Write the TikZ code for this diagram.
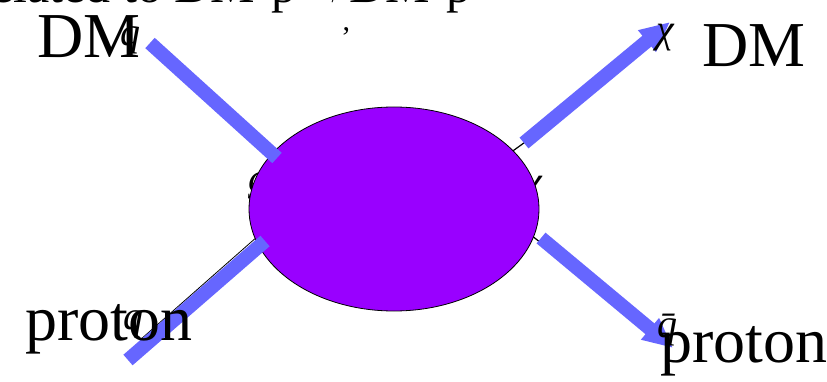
\documentclass[tikz,border=0pt]{standalone}
\usepackage{fontspec}
\setmainfont{Liberation Serif}
\usetikzlibrary{arrows.meta,shapes.geometric}
\definecolor{beam}{HTML}{6666FF}
\definecolor{blobfill}{HTML}{9900FF}
\begin{document}
\begin{tikzpicture}[x=1pt,y=-1pt,
  beamline/.style={draw=beam,line width=14pt},
  headed/.style={-{Triangle[width=26pt,length=30pt]}},
  big/.style={font=\fontsize{64}{70}\selectfont, inner sep=0pt, anchor=base west},
  small/.style={font=\fontsize{40}{44}\selectfont\itshape, inner sep=0pt},
  titletext/.style={font=\fontsize{50}{54}\selectfont, inner sep=0pt},
  fermion/.style={draw=black,line width=1.2pt}]
\useasboundingbox (0,0) rectangle (827,382);
\clip (0,0) rectangle (827,382);
% clipped title
\node[titletext, anchor=base east] (title1) at (297,3) {related to DM-p};
\node[titletext, anchor=base] (titlearrow) at (327,3) {$\rightarrow$};
\node[titletext, anchor=base east] (title2) at (472,3) {DM-p};
% fragments of labels behind the blob
\node[small] (g) at (258,186) {g};
\node[small] (chiR) at (533,190) {χ};
\node[font=\fontsize{30}{32}\selectfont, inner sep=0pt] (tick) at (346,38) {'};
% underlying fermion lines
\coordinate (f1) at (510,153); \coordinate (f2) at (528,140);
\coordinate (f3) at (531,235); \coordinate (f4) at (546,247);
\coordinate (f5) at (140,340); \coordinate (f6) at (258,236);
\draw[fermion] (f1) -- (f2);
\draw[fermion] (f3) -- (f4);
\draw[fermion,line width=0.8pt] (f5) -- (f6);
% the blob
\node[ellipse, draw=black, fill=blobfill, minimum width=290pt, minimum height=204pt, inner sep=0pt, line width=0.8pt] (blob) at (394,209) {};
% blue momentum arrows
\coordinate (a1) at (150,43);  \coordinate (a2) at (277,158);
\coordinate (b1) at (128,360); \coordinate (b2) at (265,241);
\coordinate (c1) at (524,143); \coordinate (c2) at (670,22);
\coordinate (d1) at (541,238); \coordinate (d2) at (673,348);
\draw[beamline] (a1) -- (a2);
\draw[beamline] (b1) -- (b2);
\draw[beamline,headed] (c1) -- (c2);
\draw[beamline,headed] (d1) -- (d2);
% small labels
\node[small] (qa) at (130,40) {q};
\node[small] (qb) at (133,324) {q};
\node[small] (chiT) at (665,38) {χ};
\node[small] (qbar) at (667,330) {\=q};
% big labels
\node[big] (dmL) at (37,58) {DM};
\node[big] (dmR) at (702,67) {DM};
\node[big] (pL) at (25,340) {proton};
\node[big] (pR) at (660,362) {proton};
\end{tikzpicture}
\end{document}
